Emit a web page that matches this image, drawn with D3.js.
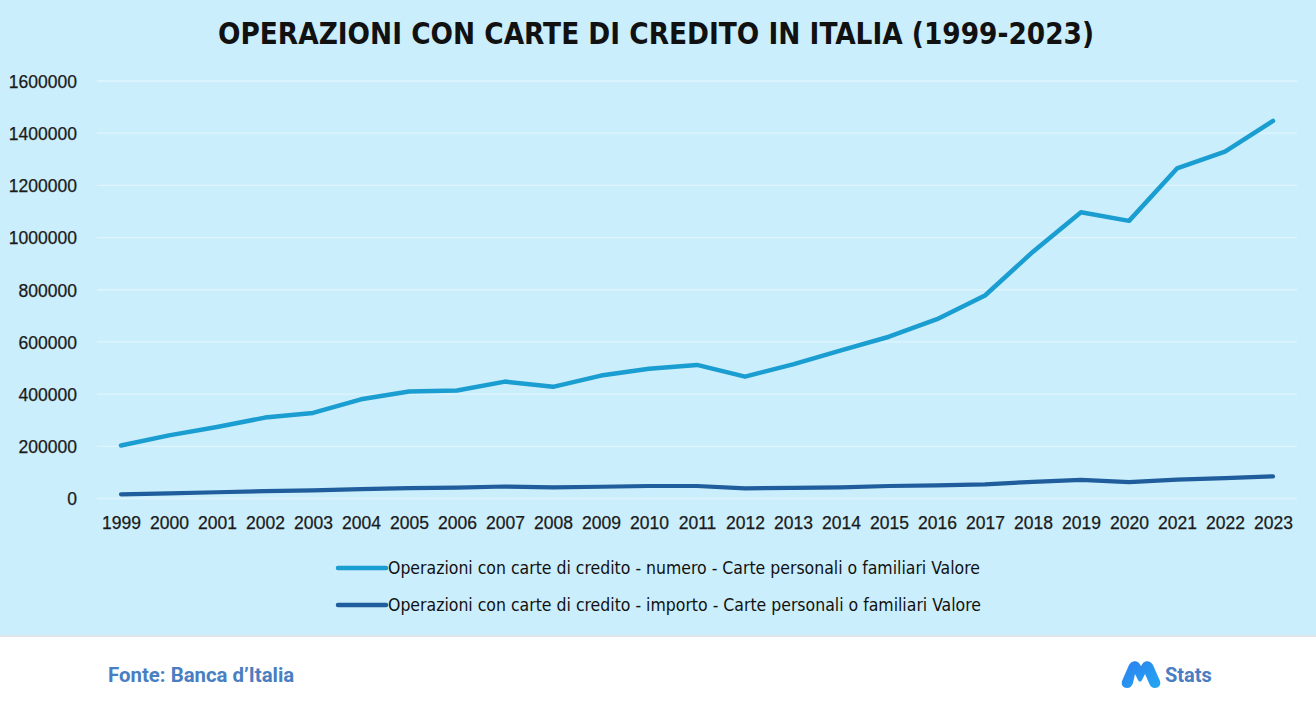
<!DOCTYPE html>
<html><head><meta charset="utf-8">
<script src="https://cdn.jsdelivr.net/npm/d3@7"></script>
<style>
html,body{margin:0;padding:0;background:#fff;}
svg{display:block;}
</style></head>
<body>
<svg id="chart" width="1316" height="712"></svg>
<script>
const title = "OPERAZIONI CON CARTE DI CREDITO IN ITALIA  (1999-2023)";
const years = ["1999","2000","2001","2002","2003","2004","2005","2006","2007","2008","2009","2010","2011","2012","2013","2014","2015","2016","2017","2018","2019","2020","2021","2022","2023"];
const numero = [203000,242000,274000,310000,328000,380000,410000,414000,448000,428000,471000,497000,512000,467000,514000,568000,620000,687000,778000,946000,1097000,1064000,1265000,1329000,1447000];
const importo = [16000,20000,24000,28000,31000,36000,40000,42000,46000,43000,45000,48000,48000,39000,41000,43000,48000,50000,54000,64000,71000,63000,72000,78000,85000];
const yTicks = [0,200000,400000,600000,800000,1000000,1200000,1400000,1600000];
const seriesNames = [
  "Operazioni con carte di credito - numero - Carte personali o familiari Valore",
  "Operazioni con carte di credito - importo - Carte personali o familiari Valore"
];
const seriesColors = ["#1a9dd0","#1f5d9c"];
const source = "Fonte: Banca d\u2019Italia";
const brand = "Stats";

const svg = d3.select("#chart");
// backgrounds
svg.append("rect").attr("x",0).attr("y",0).attr("width",1316).attr("height",635).attr("fill","#caeefc");
svg.append("rect").attr("x",0).attr("y",635).attr("width",1316).attr("height",2).attr("fill","#dfe6ea");
svg.append("rect").attr("x",0).attr("y",637).attr("width",1316).attr("height",75).attr("fill","#ffffff");

// title
svg.append("text").attr("x",656).attr("y",44).attr("text-anchor","middle")
  .attr("font-family","'Liberation Sans Narrow','DejaVu Sans Condensed','Roboto Condensed',sans-serif")
  .attr("font-weight","bold").attr("font-size",31).attr("fill","#111")
  .attr("textLength",876).attr("lengthAdjust","spacingAndGlyphs")
  .text(title);

const x = d3.scalePoint().domain(years).range([97,1297]).padding(0.5);
const y = d3.scaleLinear().domain([0,1600000]).range([498.5,81]);

// grid
svg.append("g").selectAll("line").data(yTicks).join("line")
  .attr("x1",97).attr("x2",1297)
  .attr("y1",d=>y(d)).attr("y2",d=>y(d))
  .attr("stroke","#dff4fd").attr("stroke-width",1.3);

// y axis
const yAxis = svg.append("g").attr("transform","translate(82,0)")
  .call(d3.axisLeft(y).tickValues(yTicks).tickSize(0).tickPadding(5).tickFormat(d3.format("d")));
yAxis.select(".domain").remove();
yAxis.selectAll("text").attr("font-family","'Liberation Sans',Arial,sans-serif")
  .attr("font-size",17.5).attr("fill","#1a1a1a").attr("dy","0.36em")
  .attr("stroke","#1a1a1a").attr("stroke-width",0.25);

// x axis
const xAxis = svg.append("g").attr("transform","translate(0,512)")
  .call(d3.axisBottom(x).tickSize(0).tickPadding(5));
xAxis.select(".domain").remove();
xAxis.selectAll("text").attr("font-family","'Liberation Sans',Arial,sans-serif")
  .attr("font-size",17.5).attr("fill","#1a1a1a")
  .attr("stroke","#1a1a1a").attr("stroke-width",0.25);

// lines
const line = d3.line().x((d,i)=>x(years[i])).y(d=>y(d));
svg.append("path").datum(importo).attr("d",line).attr("fill","none")
  .attr("stroke",seriesColors[1]).attr("stroke-width",4.2)
  .attr("stroke-linecap","round").attr("stroke-linejoin","round");
svg.append("path").datum(numero).attr("d",line).attr("fill","none")
  .attr("stroke",seriesColors[0]).attr("stroke-width",4.5)
  .attr("stroke-linecap","round").attr("stroke-linejoin","round");

// legend
const leg = svg.append("g");
seriesNames.forEach((n,i)=>{
  const yy = 568 + i*37;
  leg.append("line").attr("x1",338).attr("x2",386).attr("y1",yy).attr("y2",yy)
    .attr("stroke",seriesColors[i]).attr("stroke-width",4.5).attr("stroke-linecap","round");
  leg.append("text").attr("x",388).attr("y",yy).attr("dy","0.35em")
    .attr("font-family","'Liberation Sans Narrow','DejaVu Sans Condensed',sans-serif")
    .attr("font-size",18).attr("fill","#111")
    .attr("textLength", i===0 ? 592 : 593).attr("lengthAdjust","spacingAndGlyphs")
    .text(n);
});

// footer
svg.append("text").attr("x",108).attr("y",682)
  .attr("font-family","Roboto,sans-serif").attr("font-weight","bold")
  .attr("font-size",20.4).attr("fill","#4a7ec2").text(source);

// logo
const defs = svg.append("defs");
const g1 = defs.append("linearGradient").attr("id","lg").attr("x1","0").attr("y1","0").attr("x2","1").attr("y2","1");
g1.append("stop").attr("offset","0").attr("stop-color","#2f7ff0");
g1.append("stop").attr("offset","1").attr("stop-color","#22a8f0");
const logo = svg.append("g").attr("transform","translate(1121,660)");
logo.append("path")
  .attr("d","M6,28 C2,28 0,25 1,21 L8,5 C10,1 15,0 18,3 L20,6 L22,3 C25,0 30,1 32,5 L39,21 C40,25 38,28 34,28 C31,28 29,26 28,23 L24,14 L21,20 C20,22 18,22 17,20 L14,14 L12,23 C11,26 9,28 6,28 Z")
  .attr("fill","url(#lg)");
svg.append("text").attr("x",1165).attr("y",682)
  .attr("font-family","Roboto,sans-serif").attr("font-weight","bold")
  .attr("font-size",20).attr("fill","#4a7ec2").text(brand);
</script>
</body></html>
